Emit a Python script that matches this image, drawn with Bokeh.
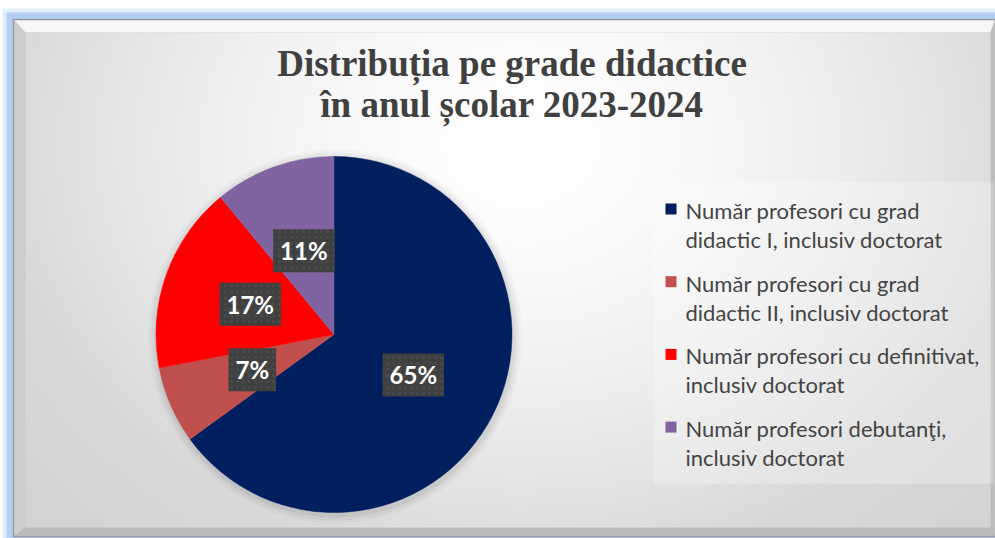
import numpy as np
from bokeh.plotting import figure
from bokeh.models import Range1d, ColumnDataSource
from bokeh.core.properties import value
from bokeh.embed import file_html
from bokeh.resources import INLINE

# ---------------- data ----------------
title_lines = ["Distribuția pe grade didactice", "în anul școlar 2023-2024"]
categories = [
    "Număr profesori cu grad\ndidactic I, inclusiv doctorat",
    "Număr profesori cu grad\ndidactic II, inclusiv doctorat",
    "Număr profesori cu definitivat,\ninclusiv doctorat",
    "Număr profesori debutanţi,\ninclusiv doctorat",
]
percent = [65, 7, 17, 11]
colors = ["#001F5F", "#C0504D", "#FF0000", "#8064A2"]

# ---------------- layout constants (screen-like units, 1 unit = 1 px) ----------------
W, H = 995, 538
CX, CY, R = 333.5, 204.0, 178.0
LABEL_R = 0.5

p = figure(width=W, height=H, output_backend="svg", toolbar_location=None,
           x_range=Range1d(0, W), y_range=Range1d(0, H), min_border=0,
           outline_line_color=None, background_fill_color="white",
           border_fill_color="white")
p.axis.visible = False
p.grid.visible = False

# ---------------- frame / background decoration ----------------
p.quad(left=2, right=W + 10, top=H - 8, bottom=-10, fill_color="#e3edfb", line_color=None)
p.quad(left=6, right=W + 10, top=H - 12, bottom=-10, fill_color="#b3cff3", line_color=None)
p.quad(left=13, right=W + 10, top=519, bottom=2, fill_color="#c4c4c4", line_color="#9a9a9a", line_width=1.5)
# bevels
p.patch(x=[14, 994, 990, 25], y=[518, 518, 506, 506], fill_color="#f7f7f7", line_color=None)
p.patch(x=[14, 25, 25, 14], y=[518, 506, 11, 3], fill_color="#cdcdcd", line_color=None)
p.patch(x=[14, 25, 990, 994], y=[3, 11, 11, 3], fill_color="#b9b9b9", line_color=None)
p.patch(x=[990, 994, 994, 990], y=[506, 518, 3, 11], fill_color="#bdbdbd", line_color=None)

# radial gradient panel
PX, PY, PW, PH = 25, 11, 965, 495
gw, gh = 483, 248
xs = np.linspace(0, PW, gw)
ys = np.linspace(0, PH, gh)
XX, YY = np.meshgrid(xs, ys)  # YY measured from panel top
d = np.sqrt(((XX - 495) / 520.0) ** 2 + ((YY - 110) / 430.0) ** 2)
g = 255 - 38 * np.clip(d, 0, 1) ** 1.6 - 6 * np.clip(d - 1, 0, 0.3) / 0.3
g = np.clip(g, 0, 255).astype(np.uint8)
img = np.zeros((gh, gw), dtype=np.uint32)
view = img.view(dtype=np.uint8).reshape((gh, gw, 4))
view[:, :, 0] = g
view[:, :, 1] = g
view[:, :, 2] = g
view[:, :, 3] = 255
img = img[::-1]
p.image_rgba(image=[img], x=PX, y=PY, dw=PW, dh=PH)

# legend panel (slightly lighter)
p.quad(left=653, right=993, top=357, bottom=55, fill_color="white", fill_alpha=0.25, line_color=None)

# ---------------- title ----------------
for txt, yy in zip(title_lines, [475, 434]):
    p.text(x=[511.5], y=[yy], text=[txt], text_align="center", text_baseline="alphabetic",
           text_font=value("Liberation Serif"), text_font_style="bold", text_font_size="37px",
           text_color="#404040")

# ---------------- pie ----------------
vals = np.array(percent, dtype=float)
frac = vals / vals.sum()
cum = np.concatenate([[0], np.cumsum(frac)])
start = np.pi / 2 - cum[1:] * 2 * np.pi
end = np.pi / 2 - cum[:-1] * 2 * np.pi
mid = (start + end) / 2

# soft shadow
for k, a in [(9, 0.025), (6, 0.035), (3, 0.05)]:
    p.circle(x=[CX + 1], y=[CY - 2], radius=R + k, fill_color="black", fill_alpha=a, line_color=None)

src = ColumnDataSource(dict(start=start, end=end, color=colors))
p.wedge(x=CX, y=CY, radius=R, start_angle="start", end_angle="end", fill_color="color",
        line_color="color", line_width=0.5, source=src)

lab = ColumnDataSource(dict(
    x=CX + LABEL_R * R * np.cos(mid),
    y=CY + LABEL_R * R * np.sin(mid),
    t=[f"{v}%" for v in percent],
))
p.text(x="x", y="y", text="t", source=lab, text_align="center", text_baseline="middle",
       text_font=value("Lato"), text_font_style="bold", text_font_size="24px", text_color="white",
       background_fill_color="#404040", background_hatch_pattern="dot",
       background_hatch_color="#4a4a4a", background_hatch_scale=6, background_hatch_weight=1,
       padding=7)

# ---------------- legend ----------------
n = len(categories)
line1_y = np.array([328 - i * 72.7 for i in range(n)])
l1 = [c.split("\n")[0] for c in categories]
l2 = [c.split("\n")[1] for c in categories]
leg = ColumnDataSource(dict(sx=[670.5] * n, sy=line1_y + 1.5, tx=[685] * n, y1=line1_y,
                            y2=line1_y - 29, l1=l1, l2=l2, color=colors))
p.scatter(x="sx", y="sy", marker="square", size=11, fill_color="color", line_color=None, source=leg)
for col, yy in [("l1", "y1"), ("l2", "y2")]:
    p.text(x="tx", y=yy, text=col, source=leg, text_align="left", text_baseline="alphabetic",
           text_font=value("Lato"), text_font_size="22px", text_color="#444444")

open("out.html", "w").write(file_html(p, INLINE))
